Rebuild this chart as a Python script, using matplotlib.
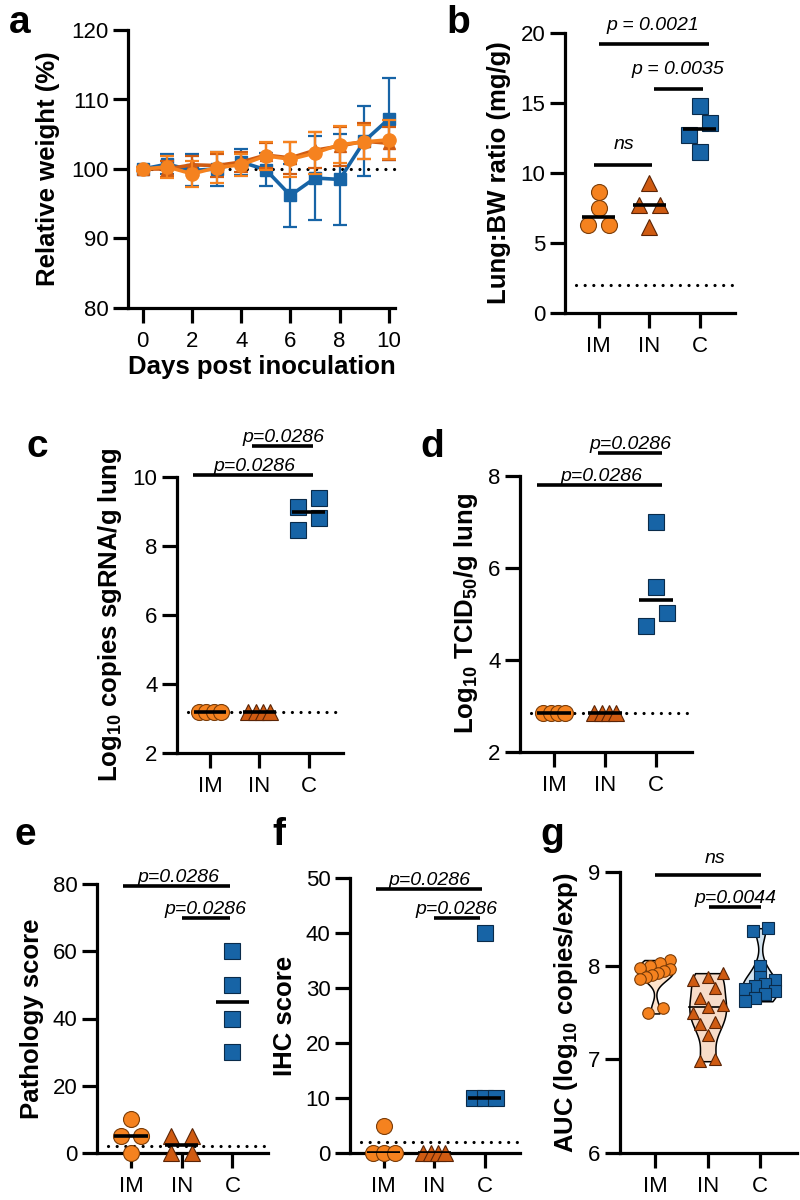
import numpy as np
import matplotlib
matplotlib.use("Agg")
import matplotlib.pyplot as plt

plt.rcParams['font.family'] = ['Liberation Sans', 'DejaVu Sans']
plt.rcParams['mathtext.fontset'] = 'custom'
plt.rcParams['mathtext.rm'] = 'Liberation Sans'
plt.rcParams['mathtext.bf'] = 'Liberation Sans:bold'
plt.rcParams['mathtext.it'] = 'Liberation Sans:italic'

# ---------------- data ----------------
groups = ["IM", "IN", "C"]

# panel a: relative weight over time
days = [0, 1, 2, 3, 4, 5, 6, 7, 8, 9, 10]
weight_C = [100, 100.7, 99.8, 100.0, 101.0, 99.9, 96.2, 98.7, 98.5, 104.0, 107.2]
weight_C_sd = [0.3, 1.4, 2.3, 2.4, 1.9, 2.4, 4.5, 6.1, 6.6, 5.0, 5.9]
weight_IN = [100, 100.0, 100.6, 100.5, 101.0, 102.0, 101.6, 102.7, 103.3, 104.0, 103.7]
weight_IN_sd = [0.3, 1.2, 1.2, 1.6, 1.4, 1.8, 2.3, 2.6, 2.8, 2.6, 2.4]
weight_IM = [100, 100.3, 99.3, 100.2, 100.6, 101.9, 101.4, 102.3, 103.5, 103.9, 104.2]
weight_IM_sd = [0.3, 1.6, 1.9, 2.2, 1.6, 2.0, 2.5, 3.0, 2.7, 2.4, 2.8]

# panel b: lung:BW ratio
lung_IM = [8.66, 7.47, 6.28, 6.28]
lung_IN = [9.3, 7.7, 7.7, 6.16]
lung_C = [14.75, 13.56, 12.72, 11.53]

# panel c: log10 sgRNA copies/g lung
sg_IM = [3.2, 3.2, 3.2, 3.2]
sg_IN = [3.2, 3.2, 3.2, 3.2]
sg_C = [9.38, 9.14, 8.81, 8.47]

# panel d: log10 TCID50/g lung
tc_IM = [2.85, 2.85, 2.85, 2.85]
tc_IN = [2.85, 2.85, 2.85, 2.85]
tc_C = [6.99, 5.59, 5.03, 4.74]

# panel e: pathology score
path_IM = [10, 5, 5, 0]
path_IN = [5, 5, 0, 0]
path_C = [60, 50, 40, 30]

# panel f: IHC score
ihc_IM = [5, 0, 0, 0]
ihc_IN = [0, 0, 0, 0]
ihc_C = [40, 10, 10, 10]

# panel g: AUC
auc_IM = [8.06, 8.03, 8.0, 7.98, 7.96, 7.94, 7.92, 7.9, 7.88, 7.86, 7.55, 7.49]
auc_IN = [7.92, 7.88, 7.85, 7.76, 7.66, 7.58, 7.56, 7.5, 7.4, 7.38, 7.26, 7.0, 6.98]
auc_C = [8.4, 8.37, 8.0, 7.88, 7.85, 7.8, 7.78, 7.75, 7.73, 7.7, 7.65, 7.62]

# limits of detection
lod_b = 2.0
lod_c = 3.2
lod_d = 2.85
lod_e = 2.0
lod_f = 2.0

# ---------------- style ----------------
C_IM = '#F5821F'
C_IN = '#CF5B12'
C_C = '#1764A6'
E_IM = '#7a3c08'
E_IN = '#5a2406'
E_C = '#0a2b4a'
V_IM = '#FDE3CC'
V_IN = '#F7DCC9'
V_C = '#D3E3EF'

SPINE_LW = 2.3
TICK_FS = 16
LABEL_FS = 18.5
SIG_FS = 14
DOTS = (0, (0.01, 2.7))

W, H = 800, 1200
fig = plt.figure(figsize=(W / 100, H / 100), dpi=100)


def make_ax(l, t, r, b):
    return fig.add_axes([l / W, 1 - b / H, (r - l) / W, (b - t) / H])


def style_ax(ax):
    for s in ['top', 'right']:
        ax.spines[s].set_visible(False)
    for s in ['left', 'bottom']:
        ax.spines[s].set_linewidth(SPINE_LW)
    ax.tick_params(axis='both', length=10.5, width=SPINE_LW, labelsize=TICK_FS)
    ax.tick_params(axis='x', pad=6)
    ax.tick_params(axis='y', pad=3.5)
    ax.patch.set_alpha(0)


def swarm_offsets(vals, ax, d_px, maxw_px):
    vals = np.asarray(vals, float)
    bbox = ax.get_position()
    h_px = bbox.height * H
    w_px = bbox.width * W
    y0, y1 = ax.get_ylim()
    x0, x1 = ax.get_xlim()
    ypu = h_px / (y1 - y0)
    xpu = w_px / (x1 - x0)
    idx = np.argsort(vals, kind='stable')
    rows = []
    cur = [idx[0]]
    for i in idx[1:]:
        if (vals[i] - vals[cur[0]]) * ypu < 0.9 * d_px:
            cur.append(i)
        else:
            rows.append(cur)
            cur = [i]
    rows.append(cur)
    offs = np.zeros(len(vals))
    for r in rows:
        n = len(r)
        if n > 1:
            sp = min(1.3 * d_px, maxw_px / (n - 1))
            for k, i in enumerate(r):
                offs[i] = (k - (n - 1) / 2) * sp / xpu
    return offs


def dot_column(ax, datasets, ms=11.5, maxw=22, median=True, medw=0.33):
    markers = ['o', '^', 's']
    faces = [C_IM, C_IN, C_C]
    edges = [E_IM, E_IN, E_C]
    for gi, vals in enumerate(datasets):
        offs = swarm_offsets(vals, ax, ms * 1.39, maxw)
        ax.plot(gi + offs, vals, linestyle='none', marker=markers[gi], ms=ms,
                mfc=faces[gi], mec=edges[gi], mew=0.8, zorder=3, clip_on=False)
        if median:
            m = np.median(vals)
            ax.plot([gi - medw, gi + medw], [m, m], color='k', lw=2.6, zorder=4,
                    solid_capstyle='butt')


def lod_line(ax, y, x0=-0.45, x1=2.7):
    ax.plot([x0, x1], [y, y], color='k', lw=2.3, linestyle=DOTS,
            dash_capstyle='round', zorder=2, clip_on=False)


def sig(ax, x1, x2, y, text, tx, ty, fs=SIG_FS):
    ax.plot([x1, x2], [y, y], color='k', lw=2.6, clip_on=False, solid_capstyle='butt')
    ax.text(tx, ty, text, ha='center', va='bottom', fontsize=fs, style='italic',
            clip_on=False)


def cat_axis(ax, ylim, yticks):
    ax.set_xlim(-0.67, 2.7)
    ax.set_ylim(*ylim)
    ax.set_yticks(yticks)
    ax.set_xticks([0, 1, 2])
    ax.set_xticklabels(groups)
    style_ax(ax)


def panel_letter(x, y, s):
    fig.text(x / W, 1 - y / H, s, fontsize=28, fontweight='bold', ha='left', va='baseline')


# ---------------- panel a ----------------
ax = make_ax(128, 30, 395, 308)
ax.set_xlim(-0.6, 10.25)
ax.set_ylim(80, 120)
style_ax(ax)
ax.set_yticks([80, 90, 100, 110, 120])
ax.set_xticks([0, 2, 4, 6, 8, 10])
ax.plot([0, 10.4], [100, 100], color='k', lw=2.3, linestyle=DOTS,
        dash_capstyle='round', zorder=1, clip_on=False)
ax.errorbar(days, weight_C, yerr=weight_C_sd, color=C_C, lw=2.6, marker='s', ms=8.5,
            mfc=C_C, mec=C_C, elinewidth=1.6, capsize=5, capthick=1.6, zorder=3, clip_on=False)
ax.errorbar(days, weight_IN, yerr=weight_IN_sd, color=C_IN, lw=2.6, marker='^', ms=8.5,
            mfc=C_IN, mec=C_IN, elinewidth=1.6, capsize=5, capthick=1.6, zorder=4, clip_on=False)
ax.errorbar(days, weight_IM, yerr=weight_IM_sd, color=C_IM, lw=2.6, marker='o', ms=9.5,
            mfc=C_IM, mec=C_IM, elinewidth=1.6, capsize=5, capthick=1.6, zorder=5, clip_on=False)
ax.set_ylabel('Relative weight (%)', fontsize=LABEL_FS, fontweight='bold', labelpad=8)
ax.set_xlabel('Days post inoculation', fontsize=LABEL_FS, fontweight='bold', labelpad=2)
panel_letter(9, 33, 'a')

# ---------------- panel b ----------------
ax = make_ax(565, 33, 735, 313)
cat_axis(ax, (0, 20), [0, 5, 10, 15, 20])
lod_line(ax, lod_b, -0.45)
dot_column(ax, [lung_IM, lung_IN, lung_C])
ax.set_ylabel('Lung:BW ratio (mg/g)', fontsize=LABEL_FS, fontweight='bold', labelpad=7)
sig(ax, 0, 2.18, 19.2, 'p = 0.0021', 1.07, 19.9)
sig(ax, 1.09, 2.07, 16.0, 'p = 0.0035', 1.57, 16.75)
sig(ax, -0.1, 1.05, 10.6, 'ns', 0.5, 11.4)
panel_letter(446, 33, 'b')

# ---------------- panel c ----------------
ax = make_ax(177, 477, 343, 753)
cat_axis(ax, (2, 10), [2, 4, 6, 8, 10])
lod_line(ax, lod_c, -0.45)
dot_column(ax, [sg_IM, sg_IN, sg_C], maxw=22)
ax.set_ylabel('Log$_{\\mathbf{10}}$ copies sgRNA/g lung', fontsize=LABEL_FS, fontweight='bold', labelpad=6)
sig(ax, -0.34, 2.1, 10.05, 'p=0.0286', 0.9, 10.05)
sig(ax, 0.86, 2.1, 10.9, 'p=0.0286', 1.5, 10.9)
panel_letter(26, 457, 'c')

# ---------------- panel d ----------------
ax = make_ax(520, 476, 692, 752)
cat_axis(ax, (2, 8), [2, 4, 6, 8])
lod_line(ax, lod_d, -0.45)
dot_column(ax, [tc_IM, tc_IN, tc_C], maxw=22)
ax.set_ylabel('Log$_{\\mathbf{10}}$ TCID$_{\\mathbf{50}}$/g lung', fontsize=LABEL_FS, fontweight='bold', labelpad=6)
sig(ax, -0.34, 2.12, 7.8, 'p=0.0286', 0.93, 7.8)
sig(ax, 0.85, 2.12, 8.5, 'p=0.0286', 1.49, 8.5)
panel_letter(420, 457, 'd')

# ---------------- panel e ----------------
ax = make_ax(97, 884, 268, 1153)
cat_axis(ax, (0, 80), [0, 20, 40, 60, 80])
lod_line(ax, lod_e, -0.45)
dot_column(ax, [path_IM, path_IN, path_C], maxw=22)
ax.set_ylabel('Pathology score', fontsize=LABEL_FS, fontweight='bold', labelpad=6)
sig(ax, -0.16, 1.96, 79.5, 'p=0.0286', 0.94, 79.5)
sig(ax, 1.0, 1.96, 70, 'p=0.0286', 1.46, 70)
panel_letter(14, 845, 'e')

# ---------------- panel f ----------------
ax = make_ax(350, 878, 520, 1153)
cat_axis(ax, (0, 50), [0, 10, 20, 30, 40, 50])
lod_line(ax, lod_f, -0.45)
dot_column(ax, [ihc_IM, ihc_IN, ihc_C], maxw=22)
ax.set_ylabel('IHC score', fontsize=LABEL_FS, fontweight='bold', labelpad=6)
sig(ax, -0.16, 1.94, 48, 'p=0.0286', 0.9, 48)
sig(ax, 1.0, 1.9, 42.7, 'p=0.0286', 1.44, 42.7)
panel_letter(272, 845, 'f')

# ---------------- panel g ----------------
ax = make_ax(620, 872, 797, 1153)
cat_axis(ax, (6, 9), [6, 7, 8, 9])
auc_sets = [auc_IM, auc_IN, auc_C]
vp = ax.violinplot(auc_sets, positions=[0, 1, 2], widths=0.7, showextrema=False,
                   bw_method=0.45)
for body, fc in zip(vp['bodies'], [V_IM, V_IN, V_C]):
    body.set_facecolor(fc)
    body.set_edgecolor('k')
    body.set_linewidth(1.1)
    body.set_alpha(1)
    body.set_zorder(2)
for gi, body in enumerate(vp['bodies']):
    verts = body.get_paths()[0].vertices
    right = verts[verts[:, 0] >= gi]
    order = np.argsort(right[:, 1])
    m = np.median(auc_sets[gi])
    half = np.interp(m, right[order, 1], right[order, 0]) - gi
    ax.plot([gi - half, gi + half], [m, m], color='k', lw=1.2, zorder=2.5)
markers = ['o', '^', 's']
faces = [C_IM, C_IN, C_C]
edges = [E_IM, E_IN, E_C]
for gi, vals in enumerate(auc_sets):
    offs = swarm_offsets(vals, ax, 11.5, 30)
    ax.plot(gi + offs, vals, linestyle='none', marker=markers[gi], ms=8.3,
            mfc=faces[gi], mec=edges[gi], mew=0.8, zorder=3, clip_on=False)
ax.set_ylabel('AUC (log$_{\\mathbf{10}}$ copies/exp)', fontsize=LABEL_FS, fontweight='bold', labelpad=6)
sig(ax, 0, 2.02, 8.97, 'ns', 1.13, 9.05)
sig(ax, 1.03, 2.02, 8.63, 'p=0.0044', 1.52, 8.63)
panel_letter(540, 845, 'g')

fig.savefig('out.png', dpi=100)
